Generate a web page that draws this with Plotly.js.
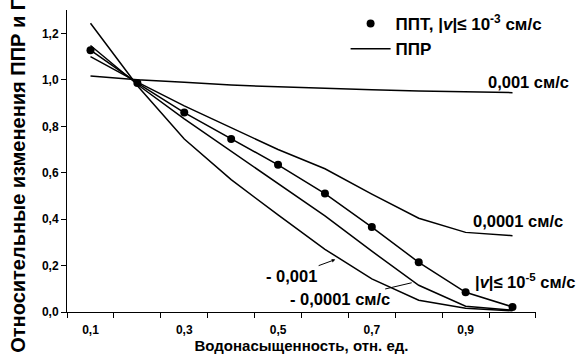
<!DOCTYPE html>
<html>
<head>
<meta charset="utf-8">
<script src="https://cdn.plot.ly/plotly-3.0.1.min.js"></script>
<style>html,body{margin:0;padding:0;background:#fff;}#chart{width:582px;height:354px;}</style>
</head>
<body>
<div id="chart"></div>
<script>
// Водонасыщенность, отн. ед.
const saturation = [0.1, 0.2, 0.3, 0.4, 0.5, 0.6, 0.7, 0.8, 0.9, 1.0];
// ППТ markers, |v| <= 1e-3 (and line |v| <= 1e-5)
const pptValues = [1.128, 0.986, 0.859, 0.745, 0.634, 0.510, 0.366, 0.214, 0.085, 0.022];
// ППР curves
const ppr_p001 = [1.017, 1.000, 0.990, 0.978, 0.970, 0.962, 0.957, 0.952, 0.948, 0.945];
const ppr_p0001 = [1.100, 0.990, 0.888, 0.793, 0.700, 0.617, 0.508, 0.404, 0.343, 0.329];
const ppr_m0001 = [1.148, 0.980, 0.832, 0.692, 0.553, 0.414, 0.262, 0.115, 0.025, 0.008];
const ppr_m001 = [1.244, 0.975, 0.745, 0.570, 0.418, 0.270, 0.143, 0.051, 0.016, 0.005];
const xTickVals = [0.1, 0.3, 0.5, 0.7, 0.9];
const yTickVals = [0, 0.2, 0.4, 0.6, 0.8, 1.0, 1.2];

const FONT = 'Liberation Sans, Arial, sans-serif';
const lineStyle = {color: '#000', width: 1.5};

const traces = [
  {x: saturation, y: pptValues, mode: 'lines', line: lineStyle, showlegend: false},
  {x: saturation, y: ppr_p001, mode: 'lines', line: lineStyle, showlegend: false},
  {x: saturation, y: ppr_p0001, mode: 'lines', line: lineStyle, showlegend: false},
  {x: saturation, y: ppr_m0001, mode: 'lines', line: lineStyle, showlegend: false},
  {x: saturation, y: ppr_m001, mode: 'lines', line: lineStyle, name: 'ППР', showlegend: true},
  {x: saturation, y: pptValues, mode: 'markers', marker: {color: '#000', size: 8},
   name: 'ППТ, |<i>v</i>|≤ 10<sup>-3</sup> см/с', showlegend: true}
];

const annFont = {family: FONT, size: 16.5, color: '#000', weight: 'bold'};
const base = {xref: 'x', yref: 'y', showarrow: false, xanchor: 'center', yanchor: 'middle', font: annFont};
const annotations = [
  Object.assign({}, base, {x: 1.034, y: 0.993, text: '0,001 см/с'}),
  Object.assign({}, base, {x: 1.012, y: 0.391, text: '0,0001 см/с'}),
  Object.assign({}, base, {x: 1.026, y: 0.135, text: '|<i>v</i>|≤ 10<sup>-5</sup> см/с'}),
  // labels with pointer arrows: text sits at (ax, ay), arrow points at (x, y)
  Object.assign({}, base, {showarrow: true, axref: 'x', ayref: 'y',
    ax: 0.529, ay: 0.157, x: 0.622, y: 0.226, text: '- 0,001',
    arrowhead: 2, arrowsize: 0.7, arrowwidth: 1, arrowcolor: '#000', standoff: 0, startstandoff: 0}),
  Object.assign({}, base, {showarrow: true, axref: 'x', ayref: 'y',
    ax: 0.633, ay: 0.054, x: 0.785, y: 0.126, text: '- 0,0001 см/с',
    arrowhead: 0, arrowwidth: 1, arrowcolor: '#000', standoff: 0, startstandoff: 0})
];

const layout = {
  width: 582, height: 354,
  margin: {l: 67, r: 46, t: 10, b: 42, pad: 0, autoexpand: false},
  paper_bgcolor: '#fff', plot_bgcolor: '#fff',
  separators: ', ',
  font: {family: FONT, color: '#000'},
  xaxis: {
    range: [0.0499, 1.0501],
    tickvals: xTickVals, tickformat: '.1f', ticks: '',
    minor: {tick0: 0.05, dtick: 0.1, ticks: 'outside', ticklen: 5, tickcolor: '#000', tickwidth: 1, showgrid: false},
    showgrid: false, zeroline: false, showline: true, linecolor: '#000', linewidth: 1,
    tickfont: {family: FONT, size: 12, weight: 'bold'},
    ticklabelstandoff: 7,
    title: {text: 'Водонасыщенность, отн. ед.', font: {family: FONT, size: 15, weight: 'bold'}, standoff: 1}
  },
  yaxis: {
    range: [0, 1.301],
    tickvals: yTickVals, tickformat: '.1f', ticks: 'outside', ticklen: 5, tickcolor: '#000',
    showgrid: false, zeroline: false, showline: true, linecolor: '#000', linewidth: 1,
    tickfont: {family: FONT, size: 12, weight: 'bold'},
    title: {text: 'Относительные изменения ППР и ППТ', font: {family: FONT, size: 20, weight: 'bold'}, standoff: 10}
  },
  legend: {
    x: 0.594, y: 1.013, xanchor: 'left', yanchor: 'top',
    bgcolor: 'rgba(0,0,0,0)', borderwidth: 0,
    font: {family: FONT, size: 17, weight: 'bold', color: '#000'},
    traceorder: 'reversed', itemwidth: 40, tracegroupgap: 0
  },
  annotations: annotations,
  showlegend: true
};

Plotly.newPlot('chart', traces, layout, {staticPlot: true, displayModeBar: false});
</script>
</body>
</html>
